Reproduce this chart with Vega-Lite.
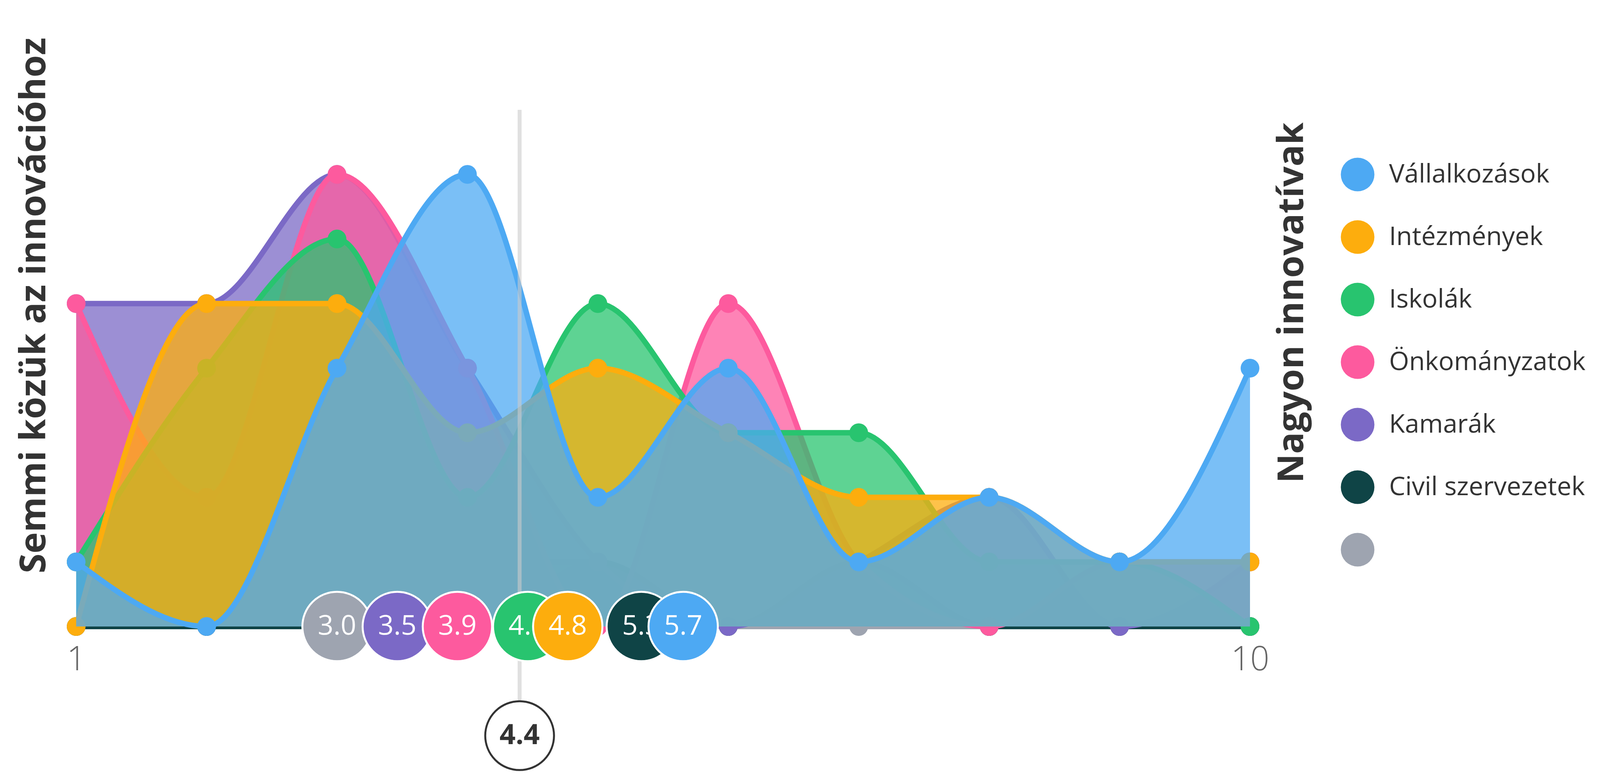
{
  "$schema": "https://vega.github.io/schema/vega-lite/v6.json",
  "width": 3005,
  "height": 1322,
  "autosize": {"type": "none"},
  "padding": {"left": 195, "top": 281, "right": 896, "bottom": 403},
  "background": "white",
  "config": {"view": {"stroke": null}, "font": "Open Sans"},
  "datasets": {
    "series": [
      {"s": "Vállalkozások", "x": 1, "v": 1}, {"s": "Vállalkozások", "x": 2, "v": 0}, {"s": "Vállalkozások", "x": 3, "v": 4}, {"s": "Vállalkozások", "x": 4, "v": 7}, {"s": "Vállalkozások", "x": 5, "v": 2}, {"s": "Vállalkozások", "x": 6, "v": 4}, {"s": "Vállalkozások", "x": 7, "v": 1}, {"s": "Vállalkozások", "x": 8, "v": 2}, {"s": "Vállalkozások", "x": 9, "v": 1}, {"s": "Vállalkozások", "x": 10, "v": 4},
      {"s": "Intézmények", "x": 1, "v": 0}, {"s": "Intézmények", "x": 2, "v": 5}, {"s": "Intézmények", "x": 3, "v": 5}, {"s": "Intézmények", "x": 4, "v": 3}, {"s": "Intézmények", "x": 5, "v": 4}, {"s": "Intézmények", "x": 6, "v": 3}, {"s": "Intézmények", "x": 7, "v": 2}, {"s": "Intézmények", "x": 8, "v": 2}, {"s": "Intézmények", "x": 9, "v": 1}, {"s": "Intézmények", "x": 10, "v": 1},
      {"s": "Iskolák", "x": 1, "v": 1}, {"s": "Iskolák", "x": 2, "v": 4}, {"s": "Iskolák", "x": 3, "v": 6}, {"s": "Iskolák", "x": 4, "v": 2}, {"s": "Iskolák", "x": 5, "v": 5}, {"s": "Iskolák", "x": 6, "v": 3}, {"s": "Iskolák", "x": 7, "v": 3}, {"s": "Iskolák", "x": 8, "v": 1}, {"s": "Iskolák", "x": 9, "v": 1}, {"s": "Iskolák", "x": 10, "v": 0},
      {"s": "Önkományzatok", "x": 1, "v": 5}, {"s": "Önkományzatok", "x": 2, "v": 2}, {"s": "Önkományzatok", "x": 3, "v": 7}, {"s": "Önkományzatok", "x": 4, "v": 4}, {"s": "Önkományzatok", "x": 5, "v": 0}, {"s": "Önkományzatok", "x": 6, "v": 5}, {"s": "Önkományzatok", "x": 7, "v": 1}, {"s": "Önkományzatok", "x": 8, "v": 0}, {"s": "Önkományzatok", "x": 9, "v": 1}, {"s": "Önkományzatok", "x": 10, "v": 1},
      {"s": "Kamarák", "x": 1, "v": 5}, {"s": "Kamarák", "x": 2, "v": 5}, {"s": "Kamarák", "x": 3, "v": 7}, {"s": "Kamarák", "x": 4, "v": 4}, {"s": "Kamarák", "x": 5, "v": 1}, {"s": "Kamarák", "x": 6, "v": 0}, {"s": "Kamarák", "x": 7, "v": 1}, {"s": "Kamarák", "x": 8, "v": 2}, {"s": "Kamarák", "x": 9, "v": 0}, {"s": "Kamarák", "x": 10, "v": 1},
      {"s": "Civil szervezetek", "x": 1, "v": 0}, {"s": "Civil szervezetek", "x": 2, "v": 0}, {"s": "Civil szervezetek", "x": 3, "v": 0}, {"s": "Civil szervezetek", "x": 4, "v": 1}, {"s": "Civil szervezetek", "x": 5, "v": 1}, {"s": "Civil szervezetek", "x": 6, "v": 0}, {"s": "Civil szervezetek", "x": 7, "v": 1}, {"s": "Civil szervezetek", "x": 8, "v": 0}, {"s": "Civil szervezetek", "x": 9, "v": 0}, {"s": "Civil szervezetek", "x": 10, "v": 0},
      {"s": "", "x": 1, "v": 1}, {"s": "", "x": 2, "v": 0}, {"s": "", "x": 3, "v": 1}, {"s": "", "x": 4, "v": 0}, {"s": "", "x": 5, "v": 1}, {"s": "", "x": 6, "v": 0}, {"s": "", "x": 7, "v": 0}, {"s": "", "x": 8, "v": 0}, {"s": "", "x": 9, "v": 0}, {"s": "", "x": 10, "v": 0}
    ],
    "bubbles": [
      {"s": "", "x": 3.0, "label": "3.0", "v": 0},
      {"s": "Kamarák", "x": 3.462, "label": "3.5", "v": 0},
      {"s": "Önkományzatok", "x": 3.923, "label": "3.9", "v": 0},
      {"s": "Iskolák", "x": 4.462, "label": "4.5", "v": 0},
      {"s": "Intézmények", "x": 4.769, "label": "4.8", "v": 0},
      {"s": "Civil szervezetek", "x": 5.333, "label": "5.3", "v": 0},
      {"s": "Vállalkozások", "x": 5.654, "label": "5.7", "v": 0}
    ],
    "rule": [{"x": 4.4, "v": 8, "v2": -1.69}],
    "avg": [{"x": 4.4, "v": -1.69, "label": "4.4"}]
  },
  "encoding": {
    "x": {"field": "x", "type": "quantitative", "scale": {"domain": [1, 10], "nice": false, "zero": false},
          "axis": {"orient": "bottom", "values": [1, 10], "title": null, "ticks": false, "tickSize": 0, "domain": false, "grid": false, "labelFont": "Open Sans", "labelFontSize": 86, "labelFontWeight": 300, "labelColor": "#666666", "labelBaseline": "middle", "labelPadding": 85, "labelFlush": false, "labelOverlap": false}}
  },
  "resolve": {"axis": {"y": "independent"}},
  "layer": [
    {
      "encoding": {
        "y": {"field": "v", "type": "quantitative", "scale": {"domain": [0, 8], "nice": false, "zero": false}, "stack": null,
              "axis": {"orient": "left", "title": "Semmi közük az innovációhoz", "labels": false, "ticks": false, "domain": false, "grid": false, "titleFont": "Open Sans", "titleFontSize": 92, "titleFontWeight": "bold", "titleColor": "#333333", "titleAngle": 270, "titleAlign": "center", "titleBaseline": "alphabetic", "titleX": -80, "titleY": 500}}
      },
      "layer": [
        {
          "data": {"name": "bubbles"},
          "mark": {"type": "point", "filled": true, "opacity": 0},
          "encoding": {
            "fill": {"field": "s", "type": "nominal",
                     "scale": {"domain": ["Vállalkozások", "Intézmények", "Iskolák", "Önkományzatok", "Kamarák", "Civil szervezetek", ""], "range": ["#4da9f3", "#fdad0d", "#28c46f", "#fd5a9e", "#7b69c6", "#0f4446", "#9ea4b0"]},
                     "legend": {"orient": "none", "legendX": 3237, "legendY": 122, "title": null, "padding": 0, "symbolType": "circle", "symbolSize": 7400, "symbolStrokeWidth": 0, "symbolOpacity": 1, "labelFont": "Open Sans", "labelFontSize": 66, "labelColor": "#333333", "labelOffset": 37, "rowPadding": 73, "labelLimit": 1000}}
          }
        },
        {
          "data": {"name": "series"},
          "transform": [{"filter": "datum.s === ''"}],
          "layer": [
            {"mark": {"type": "area", "interpolate": "monotone", "fillOpacity": 0.75}, "encoding": {"fill": {"field": "s", "type": "nominal", "legend": null}}},
            {"mark": {"type": "line", "interpolate": "monotone", "strokeWidth": 14}, "encoding": {"stroke": {"field": "s", "type": "nominal", "scale": {"domain": ["Vállalkozások", "Intézmények", "Iskolák", "Önkományzatok", "Kamarák", "Civil szervezetek", ""], "range": ["#4da9f3", "#fdad0d", "#28c46f", "#fd5a9e", "#7b69c6", "#0f4446", "#9ea4b0"]}, "legend": null}}},
            {"mark": {"type": "point", "filled": true, "opacity": 1, "size": 2300}, "encoding": {"fill": {"field": "s", "type": "nominal", "legend": null}}}
          ]
        },
        {
          "data": {"name": "series"},
          "transform": [{"filter": "datum.s === 'Civil szervezetek'"}],
          "layer": [
            {"mark": {"type": "area", "interpolate": "monotone", "fillOpacity": 0.75}, "encoding": {"fill": {"field": "s", "type": "nominal", "legend": null}}},
            {"mark": {"type": "line", "interpolate": "monotone", "strokeWidth": 14}, "encoding": {"stroke": {"field": "s", "type": "nominal", "legend": null}}},
            {"mark": {"type": "point", "filled": true, "opacity": 1, "size": 2300}, "encoding": {"fill": {"field": "s", "type": "nominal", "legend": null}}}
          ]
        },
        {
          "data": {"name": "series"},
          "transform": [{"filter": "datum.s === 'Kamarák'"}],
          "layer": [
            {"mark": {"type": "area", "interpolate": "monotone", "fillOpacity": 0.75}, "encoding": {"fill": {"field": "s", "type": "nominal", "legend": null}}},
            {"mark": {"type": "line", "interpolate": "monotone", "strokeWidth": 14}, "encoding": {"stroke": {"field": "s", "type": "nominal", "legend": null}}},
            {"mark": {"type": "point", "filled": true, "opacity": 1, "size": 2300}, "encoding": {"fill": {"field": "s", "type": "nominal", "legend": null}}}
          ]
        },
        {
          "data": {"name": "series"},
          "transform": [{"filter": "datum.s === 'Önkományzatok'"}],
          "layer": [
            {"mark": {"type": "area", "interpolate": "monotone", "fillOpacity": 0.75}, "encoding": {"fill": {"field": "s", "type": "nominal", "legend": null}}},
            {"mark": {"type": "line", "interpolate": "monotone", "strokeWidth": 14}, "encoding": {"stroke": {"field": "s", "type": "nominal", "legend": null}}},
            {"mark": {"type": "point", "filled": true, "opacity": 1, "size": 2300}, "encoding": {"fill": {"field": "s", "type": "nominal", "legend": null}}}
          ]
        },
        {
          "data": {"name": "series"},
          "transform": [{"filter": "datum.s === 'Iskolák'"}],
          "layer": [
            {"mark": {"type": "area", "interpolate": "monotone", "fillOpacity": 0.75}, "encoding": {"fill": {"field": "s", "type": "nominal", "legend": null}}},
            {"mark": {"type": "line", "interpolate": "monotone", "strokeWidth": 14}, "encoding": {"stroke": {"field": "s", "type": "nominal", "legend": null}}},
            {"mark": {"type": "point", "filled": true, "opacity": 1, "size": 2300}, "encoding": {"fill": {"field": "s", "type": "nominal", "legend": null}}}
          ]
        },
        {
          "data": {"name": "series"},
          "transform": [{"filter": "datum.s === 'Intézmények'"}],
          "layer": [
            {"mark": {"type": "area", "interpolate": "monotone", "fillOpacity": 0.75}, "encoding": {"fill": {"field": "s", "type": "nominal", "legend": null}}},
            {"mark": {"type": "line", "interpolate": "monotone", "strokeWidth": 14}, "encoding": {"stroke": {"field": "s", "type": "nominal", "legend": null}}},
            {"mark": {"type": "point", "filled": true, "opacity": 1, "size": 2300}, "encoding": {"fill": {"field": "s", "type": "nominal", "legend": null}}}
          ]
        },
        {
          "data": {"name": "series"},
          "transform": [{"filter": "datum.s === 'Vállalkozások'"}],
          "layer": [
            {"mark": {"type": "area", "interpolate": "monotone", "fillOpacity": 0.75}, "encoding": {"fill": {"field": "s", "type": "nominal", "legend": null}}},
            {"mark": {"type": "line", "interpolate": "monotone", "strokeWidth": 14}, "encoding": {"stroke": {"field": "s", "type": "nominal", "legend": null}}},
            {"mark": {"type": "point", "filled": true, "opacity": 1, "size": 2300}, "encoding": {"fill": {"field": "s", "type": "nominal", "legend": null}}}
          ]
        },
        {
          "data": {"name": "rule"},
          "mark": {"type": "rule", "stroke": "#cccccc", "strokeWidth": 10, "opacity": 0.6},
          "encoding": {"y2": {"field": "v2"}}
        },
        {
          "data": {"name": "bubbles"},
          "transform": [{"filter": "datum.s === ''"}],
          "layer": [
            {"mark": {"type": "circle", "size": 31500, "opacity": 1, "stroke": "white", "strokeWidth": 5}, "encoding": {"fill": {"field": "s", "type": "nominal", "legend": null}}},
            {"mark": {"type": "text", "fill": "white", "font": "Open Sans", "fontSize": 70, "align": "center", "baseline": "middle"}, "encoding": {"text": {"field": "label"}}}
          ]
        },
        {
          "data": {"name": "bubbles"},
          "transform": [{"filter": "datum.s === 'Kamarák'"}],
          "layer": [
            {"mark": {"type": "circle", "size": 31500, "opacity": 1, "stroke": "white", "strokeWidth": 5}, "encoding": {"fill": {"field": "s", "type": "nominal", "legend": null}}},
            {"mark": {"type": "text", "fill": "white", "font": "Open Sans", "fontSize": 70, "align": "center", "baseline": "middle"}, "encoding": {"text": {"field": "label"}}}
          ]
        },
        {
          "data": {"name": "bubbles"},
          "transform": [{"filter": "datum.s === 'Önkományzatok'"}],
          "layer": [
            {"mark": {"type": "circle", "size": 31500, "opacity": 1, "stroke": "white", "strokeWidth": 5}, "encoding": {"fill": {"field": "s", "type": "nominal", "legend": null}}},
            {"mark": {"type": "text", "fill": "white", "font": "Open Sans", "fontSize": 70, "align": "center", "baseline": "middle"}, "encoding": {"text": {"field": "label"}}}
          ]
        },
        {
          "data": {"name": "bubbles"},
          "transform": [{"filter": "datum.s === 'Iskolák'"}],
          "layer": [
            {"mark": {"type": "circle", "size": 31500, "opacity": 1, "stroke": "white", "strokeWidth": 5}, "encoding": {"fill": {"field": "s", "type": "nominal", "legend": null}}},
            {"mark": {"type": "text", "fill": "white", "font": "Open Sans", "fontSize": 70, "align": "center", "baseline": "middle"}, "encoding": {"text": {"field": "label"}}}
          ]
        },
        {
          "data": {"name": "bubbles"},
          "transform": [{"filter": "datum.s === 'Intézmények'"}],
          "layer": [
            {"mark": {"type": "circle", "size": 31500, "opacity": 1, "stroke": "white", "strokeWidth": 5}, "encoding": {"fill": {"field": "s", "type": "nominal", "legend": null}}},
            {"mark": {"type": "text", "fill": "white", "font": "Open Sans", "fontSize": 70, "align": "center", "baseline": "middle"}, "encoding": {"text": {"field": "label"}}}
          ]
        },
        {
          "data": {"name": "bubbles"},
          "transform": [{"filter": "datum.s === 'Civil szervezetek'"}],
          "layer": [
            {"mark": {"type": "circle", "size": 31500, "opacity": 1, "stroke": "white", "strokeWidth": 5}, "encoding": {"fill": {"field": "s", "type": "nominal", "legend": null}}},
            {"mark": {"type": "text", "fill": "white", "font": "Open Sans", "fontSize": 70, "align": "center", "baseline": "middle"}, "encoding": {"text": {"field": "label"}}}
          ]
        },
        {
          "data": {"name": "bubbles"},
          "transform": [{"filter": "datum.s === 'Vállalkozások'"}],
          "layer": [
            {"mark": {"type": "circle", "size": 31500, "opacity": 1, "stroke": "white", "strokeWidth": 5}, "encoding": {"fill": {"field": "s", "type": "nominal", "legend": null}}},
            {"mark": {"type": "text", "fill": "white", "font": "Open Sans", "fontSize": 70, "align": "center", "baseline": "middle"}, "encoding": {"text": {"field": "label"}}}
          ]
        }
      ]
    },
    {
      "data": {"name": "avg"},
      "encoding": {
        "y": {"field": "v", "type": "quantitative", "scale": {"domain": [0, 8], "nice": false, "zero": false},
              "axis": {"orient": "right", "title": "Nagyon innovatívak", "labels": false, "ticks": false, "domain": false, "grid": false, "titleFont": "Open Sans", "titleFontSize": 92, "titleFontWeight": "bold", "titleColor": "#333333", "titleAngle": 270, "titleAlign": "center", "titleBaseline": "alphabetic", "titleX": 135, "titleY": 493}}
      },
      "layer": [
        {"mark": {"type": "circle", "size": 31000, "opacity": 1, "fill": "white", "stroke": "#333333", "strokeWidth": 5}},
        {"mark": {"type": "text", "fill": "#333333", "font": "Open Sans", "fontSize": 72, "fontWeight": "bold", "align": "center", "baseline": "middle"}, "encoding": {"text": {"field": "label"}}}
      ]
    }
  ]
}
